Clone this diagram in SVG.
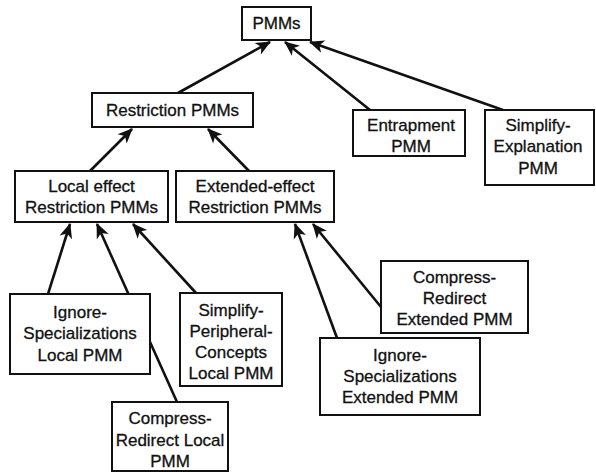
<svg xmlns="http://www.w3.org/2000/svg" width="596" height="472" viewBox="0 0 596 472">
<defs>
<marker id="ah" markerUnits="userSpaceOnUse" markerWidth="20" markerHeight="20" refX="0" refY="0" orient="auto" overflow="visible">
<path d="M1,0 L-14,-6.5 L-10,0 L-14,6.5 Z" fill="#111"/>
</marker>
<style>
.box{fill:#fff;stroke:#111;stroke-width:2}
.t{font-family:"Liberation Sans",Arial,sans-serif;font-size:17px;fill:#111;stroke:#111;stroke-width:0.3;text-anchor:middle}
.c{stroke:#111;stroke-width:2.6;fill:none;marker-end:url(#ah)}
</style>
</defs>
<rect width="596" height="472" fill="#fff"/>
<g id="connectors">
<line class="c" x1="178" y1="93" x2="270" y2="42"/>
<line class="c" x1="370" y1="110" x2="285" y2="42"/>
<line class="c" x1="503" y1="110" x2="310" y2="42"/>
<line class="c" x1="90" y1="171" x2="132" y2="129"/>
<line class="c" x1="249" y1="171" x2="208" y2="129"/>
<line class="c" x1="48" y1="294" x2="70" y2="224"/>
<line class="c" x1="177" y1="402" x2="97" y2="224"/>
<line class="c" x1="196" y1="293" x2="133" y2="224"/>
<line class="c" x1="337" y1="338" x2="295" y2="224"/>
<line class="c" x1="381" y1="307" x2="313" y2="224"/>
</g>
<g id="pmms">
<rect class="box" x="242" y="7" width="69" height="33"/>
<text class="t" x="276.5" y="29">PMMs</text>
</g>
<g id="restriction">
<rect class="box" x="92" y="93" width="161" height="34"/>
<text class="t" x="172.5" y="116">Restriction PMMs</text>
</g>
<g id="entrapment">
<rect class="box" x="353" y="110" width="112" height="46"/>
<text class="t" x="411" y="131">Entrapment</text>
<text class="t" x="411" y="152">PMM</text>
</g>
<g id="simplify-explanation">
<rect class="box" x="485" y="110" width="109" height="75"/>
<text class="t" x="538" y="131">Simplify-</text>
<text class="t" x="538" y="152">Explanation</text>
<text class="t" x="538" y="174">PMM</text>
</g>
<g id="local-effect">
<rect class="box" x="15" y="171" width="153" height="51"/>
<text class="t" x="91.5" y="192">Local effect</text>
<text class="t" x="91.5" y="213">Restriction PMMs</text>
</g>
<g id="extended-effect">
<rect class="box" x="176" y="171" width="158" height="51"/>
<text class="t" x="255" y="192">Extended-effect</text>
<text class="t" x="255" y="213">Restriction PMMs</text>
</g>
<g id="ignore-local">
<rect class="box" x="10" y="294" width="140" height="80"/>
<text class="t" x="80" y="318">Ignore-</text>
<text class="t" x="80" y="339">Specializations</text>
<text class="t" x="80" y="361">Local PMM</text>
</g>
<g id="simplify-peripheral">
<rect class="box" x="180" y="293" width="102" height="93"/>
<text class="t" x="231" y="316">Simplify-</text>
<text class="t" x="231" y="337">Peripheral-</text>
<text class="t" x="231" y="358">Concepts</text>
<text class="t" x="231" y="379">Local PMM</text>
</g>
<g id="compress-local">
<rect class="box" x="112" y="402" width="116" height="69"/>
<text class="t" x="170" y="424">Compress-</text>
<text class="t" x="170" y="446">Redirect Local</text>
<text class="t" x="170" y="467">PMM</text>
</g>
<g id="compress-extended">
<rect class="box" x="381" y="261" width="147" height="72"/>
<text class="t" x="454.5" y="283">Compress-</text>
<text class="t" x="454.5" y="304">Redirect</text>
<text class="t" x="454.5" y="325">Extended PMM</text>
</g>
<g id="ignore-extended">
<rect class="box" x="320" y="338" width="160" height="77"/>
<text class="t" x="400" y="361">Ignore-</text>
<text class="t" x="400" y="382">Specializations</text>
<text class="t" x="400" y="403">Extended PMM</text>
</g>
</svg>
